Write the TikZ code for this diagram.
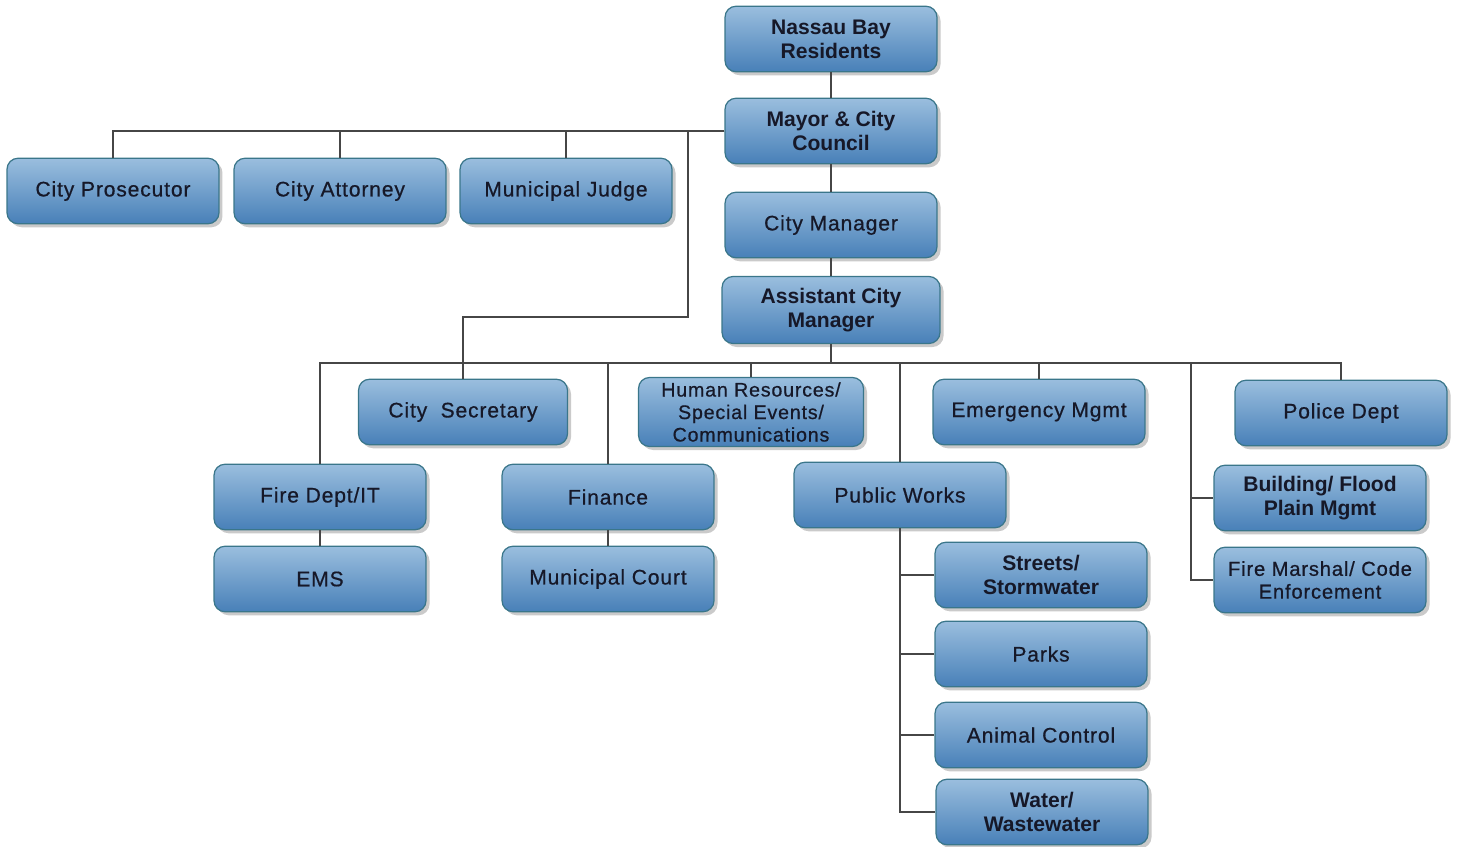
\documentclass[tikz,border=0pt]{standalone}
\usepackage{fontspec}
\setmainfont{Liberation Sans}
\newfontfamily\unitfont[LetterSpace=4,FakeBold=0.6]{Liberation Sans}
\usetikzlibrary{shadows}
\definecolor{boxtop}{RGB}{154,190,222}
\definecolor{boxbot}{RGB}{72,128,184}
\definecolor{boxline}{RGB}{58,118,138}
\definecolor{linegray}{RGB}{70,70,70}
\definecolor{txt}{RGB}{22,24,40}
\begin{document}
\begin{tikzpicture}[x=0.02cm,y=-0.02cm,
    unit/.style={draw=boxline, line width=0.7pt, rounded corners=0.22cm, top color=boxtop, bottom color=boxbot,
        minimum width=4.24cm, minimum height=1.31cm, align=center, text=txt, inner sep=2pt,
        font=\unitfont\fontsize{12}{13.5}\selectfont,
        drop shadow={shadow xshift=2pt, shadow yshift=-2pt, opacity=0.35, fill=black!60}},
    head/.style={unit, font=\bfseries\fontsize{12}{13.5}\selectfont},
    link/.style={draw=linegray, line width=0.8pt}]
        \useasboundingbox (0,0) rectangle (1459,847);
        %
        % top of the chart
        \node[head] (res) at (831,39) {Nassau Bay\\Residents};
        \node[head] (may) at (831,131) {Mayor \& City\\Council};
        \node[unit] (mgr) at (831,225) {City Manager};
        \node[head,minimum width=4.36cm,minimum height=1.34cm] (acm) at (831,310) {Assistant City\\Manager};
        %
        % appointed by council
        \node[unit] (pros) at (113,191) {City Prosecutor};
        \node[unit] (att) at (340,191) {City Attorney};
        \node[unit] (judge) at (566,191) {Municipal Judge};
        %
        % departments
        \node[unit,minimum width=4.18cm] (sec) at (463,412) {City\ \ Secretary};
        \node[unit,minimum width=4.5cm,minimum height=1.38cm,font=\unitfont\fontsize{11.2}{12.8}\selectfont] (hr) at (751,412) {Human Resources/\\Special Events/\\Communications};
        \node[unit] (emg) at (1039,412) {Emergency Mgmt};
        \node[unit] (pol) at (1341,413) {Police Dept};
        \node[unit] (fire) at (320,497) {Fire Dept/IT};
        \node[unit] (ems) at (320,579) {EMS};
        \node[unit] (fin) at (608,497) {Finance};
        \node[unit] (court) at (608,579) {Municipal Court};
        \node[unit] (pw) at (900,495) {Public Works};
        \node[head] (bld) at (1320,498) {Building/ Flood\\Plain Mgmt};
        \node[unit,font=\unitfont\fontsize{11.5}{13}\selectfont] (fm) at (1320,580) {Fire Marshal/ Code\\Enforcement};
        %
        % public works
        \node[head] (str) at (1041,575) {Streets/\\Stormwater};
        \node[unit] (park) at (1041,654) {Parks};
        \node[unit] (anim) at (1041,735) {Animal Control};
        \node[head] (wat) at (1042,812) {Water/\\Wastewater};
        %
        \coordinate (split) at (688,131);
        \coordinate (bspine) at (1191,363);
        %
        \draw[link] (res) -- (may);
        \draw[link] (may) -- (mgr);
        \draw[link] (mgr) -- (acm);
        \draw[link] (may.west) -| (pros.north);
        \draw[link] (may.west) -| (att.north);
        \draw[link] (may.west) -| (judge.north);
        \draw[link] (split) -- (688,317) -| (sec.north);
        \foreach \d in {fire,fin,hr,pw,emg,pol}
            \draw[link] (acm.south) -- ++(0,19) -| (\d.north);
        \draw[link] (acm.south) -- ++(0,19) -| (bspine);
        \draw[link] (bspine) |- (bld.west);
        \draw[link] (bspine) |- (fm.west);
        \draw[link] (fire) -- (ems);
        \draw[link] (fin) -- (court);
        \foreach \d in {str,park,anim,wat}
            \draw[link] (pw.south) |- (\d.west);
\end{tikzpicture}
\end{document}
